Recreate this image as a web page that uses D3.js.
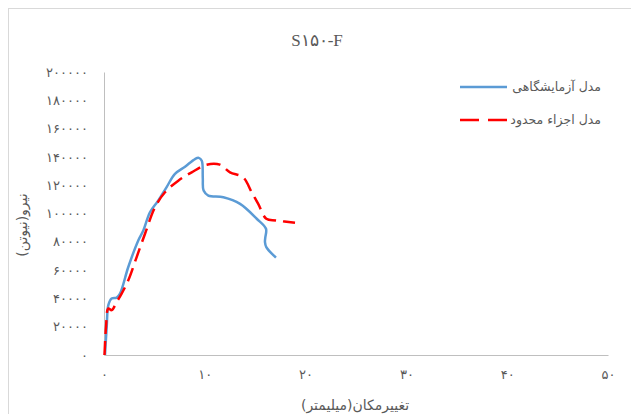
<!DOCTYPE html>
<html lang="fa">
<head>
  <meta charset="UTF-8">
  <title>S150-F</title>
  <script src="https://d3js.org/d3.v7.min.js"></script>
  <style>
    body { margin: 0; background: #fff; }
    svg { display: block; }
    .tick text { fill: #595959; font-family: "DejaVu Sans", sans-serif; font-size: 13px; }
  </style>
</head>
<body>
  <svg id="chart"></svg>

  <script>
    // displacement (mm), force (N)
    const labX = [0.1, 0.27, 0.43, 0.76, 1.26, 1.59, 2.41, 3.4, 3.9, 4.56, 5.39, 6.2, 7.04, 8.04, 9.03, 9.4, 9.7, 9.8, 9.88, 10.35, 11.84, 13.5, 15.15, 16.07, 16.0, 15.97, 16.1, 17.06];
    const labY = [0, 20000, 35200, 39900, 40600, 43400, 62200, 81000, 88000, 100900, 109200, 118500, 128000, 133100, 138500, 139300, 137300, 125000, 116200, 112700, 111500, 106800, 96300, 89200, 83000, 79800, 76300, 68800];

    const femX = [0.05, 0.2, 0.43, 0.76, 1.26, 1.75, 2.41, 3.24, 4.07, 5.06, 6.05, 7.37, 8.7, 10.19, 11.5, 12.5, 13.8, 14.65, 15.3, 16.1, 17.06, 18.95];
    const femY = [0, 20000, 32900, 31700, 37500, 43400, 52800, 69200, 85700, 104400, 115000, 123200, 129100, 134500, 134500, 129100, 125600, 115000, 106800, 96300, 95100, 93400];

    const xTicks = [0, 10, 20, 30, 40, 50];
    const xTickLabels = ["۰", "۱۰", "۲۰", "۳۰", "۴۰", "۵۰"];
    const yTicks = [0, 20000, 40000, 60000, 80000, 100000, 120000, 140000, 160000, 180000, 200000];
    const yTickLabels = ["۰", "۲۰۰۰۰", "۴۰۰۰۰", "۶۰۰۰۰", "۸۰۰۰۰", "۱۰۰۰۰۰", "۱۲۰۰۰۰", "۱۴۰۰۰۰", "۱۶۰۰۰۰", "۱۸۰۰۰۰", "۲۰۰۰۰۰"];

    const seriesNames = ["مدل آزمایشگاهی", "مدل اجزاء محدود"];

    const width = 631, height = 414;
    const margin = { left: 104, right: 23, top: 72, bottom: 59 };

    const svg = d3.select("#chart").attr("width", width).attr("height", height);

    svg.append("rect")
      .attr("x", 8.5).attr("y", 8.5)
      .attr("width", width).attr("height", height)
      .attr("fill", "none").attr("stroke", "#d9d9d9");

    const x = d3.scaleLinear().domain([0, 50]).range([margin.left, width - margin.right]);
    const y = d3.scaleLinear().domain([0, 200000]).range([height - margin.bottom, margin.top]);

    // y axis
    const yAxis = svg.append("g")
      .attr("transform", `translate(${margin.left},0)`)
      .call(d3.axisLeft(y).tickValues(yTicks).tickSize(0).tickPadding(16)
        .tickFormat((d, i) => yTickLabels[i]));
    yAxis.select(".domain").attr("stroke", "#bfbfbf");

    // x axis
    const xAxis = svg.append("g")
      .attr("transform", `translate(0,${height - margin.bottom})`)
      .call(d3.axisBottom(x).tickValues(xTicks).tickSize(0).tickPadding(15)
        .tickFormat((d, i) => xTickLabels[i]));
    xAxis.select(".domain").attr("stroke", "#bfbfbf");

    // title and axis titles
    svg.append("text")
      .attr("x", 317).attr("y", 46)
      .attr("text-anchor", "middle")
      .attr("fill", "#595959")
      .style("font-family", "'Liberation Serif', 'DejaVu Serif', serif")
      .style("font-size", "17px")
      .text("S۱۵۰-F");

    svg.append("text")
      .attr("x", 355).attr("y", 410)
      .attr("text-anchor", "middle")
      .attr("fill", "#595959")
      .style("font-family", "'DejaVu Sans', sans-serif")
      .style("font-size", "14px")
      .text("تغییرمکان(میلیمتر)");

    svg.append("text")
      .attr("transform", "translate(27,225) rotate(-90)")
      .attr("text-anchor", "middle")
      .attr("fill", "#595959")
      .style("font-family", "'DejaVu Sans', sans-serif")
      .style("font-size", "14px")
      .text("نیرو(نیوتن)");

    const line = d3.line()
      .x(d => x(d[0]))
      .y(d => y(d[1]))
      .curve(d3.curveCatmullRom.alpha(0.5));

    const labData = labX.map((v, i) => [v, labY[i]]);
    const femData = femX.map((v, i) => [v, femY[i]]);

    svg.append("path")
      .attr("d", line(labData))
      .attr("fill", "none")
      .attr("stroke", "#5b9bd5")
      .attr("stroke-width", 2.5)
      .attr("stroke-linejoin", "round");

    svg.append("path")
      .attr("d", line(femData))
      .attr("fill", "none")
      .attr("stroke", "#ff0000")
      .attr("stroke-width", 2.5)
      .attr("stroke-dasharray", "14,7");

    // legend
    const legend = svg.append("g");
    const legendStyles = [
      { color: "#5b9bd5", dash: null, y: 87 },
      { color: "#ff0000", dash: "19,9", y: 120 }
    ];
    legendStyles.forEach((s, i) => {
      legend.append("line")
        .attr("x1", 460).attr("x2", 507)
        .attr("y1", s.y).attr("y2", s.y)
        .attr("stroke", s.color)
        .attr("stroke-width", 2.5)
        .attr("stroke-dasharray", s.dash);
      legend.append("text")
        .attr("x", 601).attr("y", s.y + 4)
        .attr("text-anchor", "end")
        .attr("fill", "#595959")
        .style("font-family", "'DejaVu Sans', sans-serif")
        .style("font-size", "12.5px")
        .text(seriesNames[i]);
    });
  </script>
</body>
</html>
